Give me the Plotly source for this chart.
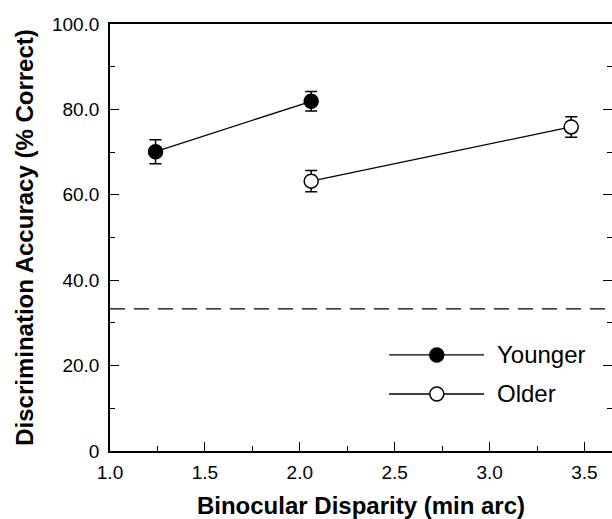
import plotly.graph_objects as go

# ---- data ----
younger_x = [1.24, 2.06]
younger_y = [70.1, 81.9]
younger_err = [2.8, 2.3]

older_x = [2.06, 3.43]
older_y = [63.2, 75.9]
older_err = [2.5, 2.4]

chance_level = 33.3

x_tick_vals = [1.0, 1.5, 2.0, 2.5, 3.0, 3.5]
x_tick_text = ["1.0", "1.5", "2.0", "2.5", "3.0", "3.5"]
y_tick_vals = [0, 20, 40, 60, 80, 100]
y_tick_text = ["0", "20.0", "40.0", "60.0", "80.0", "100.0"]

legend_names = ["Younger", "Older"]
legend_fills = ["black", "white"]

FONT = "Liberation Sans, Arial, Helvetica, sans-serif"

fig = go.Figure()

fig.add_trace(go.Scatter(
    x=younger_x, y=younger_y, mode="lines+markers", name="Younger",
    line=dict(color="black", width=1.3),
    marker=dict(symbol="circle", size=14, color="black", line=dict(color="black", width=1.5)),
    error_y=dict(type="data", array=younger_err, visible=True, color="black", thickness=1.5, width=6),
    showlegend=False,
))
fig.add_trace(go.Scatter(
    x=older_x, y=older_y, mode="lines+markers", name="Older",
    line=dict(color="black", width=1.3),
    marker=dict(symbol="circle", size=14, color="white", line=dict(color="black", width=1.5)),
    error_y=dict(type="data", array=older_err, visible=True, color="black", thickness=1.5, width=6),
    showlegend=False,
))

# chance level dashed line
fig.add_shape(type="line", xref="paper", x0=0, x1=1, yref="y", y0=chance_level, y1=chance_level,
              line=dict(color="black", width=1.3, dash="15px,9px"))

# custom legend (line with marker in the middle)
leg_x0, leg_x1, leg_xm, leg_xt = 0.556, 0.745, 0.651, 0.773
leg_ys = [0.225, 0.1335]
for name, fill, ly in zip(legend_names, legend_fills, leg_ys):
    fig.add_shape(type="line", xref="paper", yref="paper", x0=leg_x0, x1=leg_x1, y0=ly, y1=ly,
                  line=dict(color="black", width=1.3))
    fig.add_shape(type="circle", xref="paper", yref="paper", xsizemode="pixel", ysizemode="pixel",
                  xanchor=leg_xm, yanchor=ly, x0=-7, x1=7, y0=-7, y1=7,
                  fillcolor=fill, line=dict(color="black", width=1.5))
    fig.add_annotation(xref="paper", yref="paper", x=leg_xt, y=ly, text=name, showarrow=False,
                       xanchor="left", yanchor="middle", xshift=-3,
                       font=dict(family=FONT, size=24, color="black"))

fig.update_xaxes(
    range=[1.0, 3.645], showline=True, linecolor="black", linewidth=1.5, mirror=True,
    tickmode="array", tickvals=x_tick_vals, ticktext=x_tick_text,
    ticks="inside", ticklen=9, tickwidth=1.3, tickcolor="black",
    minor=dict(dtick=0.25, tick0=1.0, ticks="inside", ticklen=5, tickwidth=1.3, tickcolor="black"),
    showgrid=False, zeroline=False, ticklabelstandoff=3,
    tickfont=dict(family=FONT, size=19, color="black"),
    title=dict(text="<b>Binocular Disparity (min arc)</b>", font=dict(family=FONT, size=24, color="black"), standoff=26),
)
fig.update_yaxes(
    range=[0, 100], showline=True, linecolor="black", linewidth=1.5, mirror="ticks",
    tickmode="array", tickvals=y_tick_vals, ticktext=y_tick_text,
    ticks="inside", ticklen=9, tickwidth=1.3, tickcolor="black",
    minor=dict(dtick=10, tick0=0, ticks="inside", ticklen=5, tickwidth=1.3, tickcolor="black"),
    showgrid=False, zeroline=False, ticklabelstandoff=5,
    tickfont=dict(family=FONT, size=19, color="black"),
    title=dict(text="<b>Discrimination Accuracy (% Correct)</b>", font=dict(family=FONT, size=24, color="black"), standoff=12),
)

fig.update_layout(
    width=612, height=519,
    margin=dict(l=110, r=0, t=24, b=68, autoexpand=False),
    plot_bgcolor="white", paper_bgcolor="white",
    font=dict(family=FONT, color="black"),
)

# remove the default page margin so the figure fills the window exactly
fig.write_html("out.html",
               config={"displayModeBar": False},
               post_script="document.body.style.margin='0';document.body.style.overflow='hidden';")
